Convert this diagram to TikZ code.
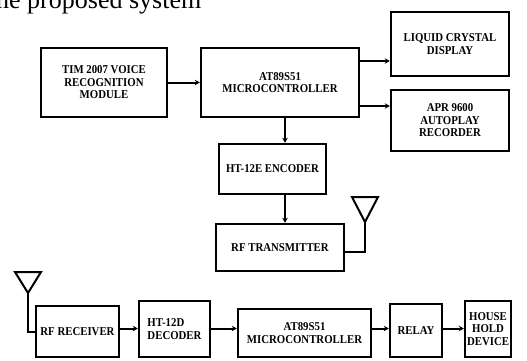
\documentclass[tikz,border=0pt]{standalone}
\usepackage{fontspec}
\setmainfont{Liberation Serif}
\newfontfamily\blockfont{Liberation Serif}[FakeStretch=0.9]
\usepackage{tikz}
\usetikzlibrary{calc}
\usetikzlibrary{arrows.meta}
\tikzset{
    blockbox/.style={
        draw,
        line width=2.4pt,
        fill=white,
        align=center,
        inner sep=2pt,
        font=\blockfont\bfseries\fontsize{12}{12.5}\selectfont
    },
    % flow arrows between the blocks
    flowarrow/.style={
        line width=2pt,
        black,
        -{Stealth[length=5pt, width=5.5pt]}
    },
    antenna/.style={
        line width=2pt,
        black,
        line join=miter
    }
}

\begin{document}
\begin{tikzpicture}[x=1pt,y=-1pt]
    \useasboundingbox (0,0) rectangle (527,360);
    \node[anchor=base west,inner sep=0pt,font=\fontsize{26}{26}\selectfont] (title) at (-4,8) {he proposed system};

    \node[blockbox,minimum width=126pt,minimum height=69pt] (tim) at (104,82.5) {TIM 2007 VOICE\\RECOGNITION\\MODULE};
    \node[blockbox,minimum width=158pt,minimum height=69pt] (mcu1) at (280,82.5) {AT89S51\\MICROCONTROLLER};
    \node[blockbox,minimum width=118pt,minimum height=64pt] (lcd) at (450,44) {LIQUID CRYSTAL\\DISPLAY};
    \node[blockbox,minimum width=118pt,minimum height=61pt] (apr) at (450,120.5) {APR 9600\\AUTOPLAY\\RECORDER};
    \node[blockbox,minimum width=107pt,minimum height=50pt] (enc) at (272.5,169) {HT-12E ENCODER};
    \node[blockbox,minimum width=128pt,minimum height=47pt] (tx) at (280,247.5) {RF TRANSMITTER};

    \node[blockbox,minimum width=83pt,minimum height=51pt] (rx) at (77.5,331.5) {RF RECEIVER};
    \node[blockbox,minimum width=71pt,minimum height=56pt,align=left] (dec) at (174.5,329) {HT-12D\\DECODER};
    \node[blockbox,minimum width=133pt,minimum height=48pt] (mcu2) at (304.5,333) {AT89S51\\MICROCONTROLLER};
    \node[blockbox,minimum width=52pt,minimum height=53pt] (relay) at (416,330.5) {RELAY};
    \node[blockbox,minimum width=46pt,minimum height=56pt] (house) at (488,329) {HOUSE\\HOLD\\DEVICE};

    % transmitter side
    \draw[flowarrow] (tim.east) -- (mcu1.west);
    \draw[flowarrow] ([yshift=21.5pt]mcu1.east) coordinate (a1) -- (a1 -| lcd.west);
    \draw[flowarrow] ([yshift=-23.5pt]mcu1.east) coordinate (a2) -- (a2 -| apr.west);
    \draw[flowarrow] ([xshift=5pt]mcu1.south) coordinate (a3) -- (a3 |- enc.north);
    \draw[flowarrow] (a3 |- enc.south) -- (a3 |- tx.north);

    % receiver side
    \coordinate (row) at (0,328.5);
    \draw[flowarrow] (rx.east |- row) -- (dec.west |- row);
    \draw[flowarrow] (dec.east |- row) -- (mcu2.west |- row);
    \draw[flowarrow] (mcu2.east |- row) -- (relay.west |- row);
    \draw[flowarrow] (relay.east |- row) -- (house.west |- row);

    % antennas
    \coordinate (ant1) at (365,222);
    \draw[antenna] (352,197) -- (378,197) -- (ant1) -- cycle;
    \draw[antenna] (ant1) |- ([yshift=-4.5pt]tx.east);
    \coordinate (ant2) at (28,293);
    \draw[antenna] (15,272) -- (41,272) -- (ant2) -- cycle;
    \draw[antenna] (ant2) |- (rx.west);
\end{tikzpicture}
\end{document}
